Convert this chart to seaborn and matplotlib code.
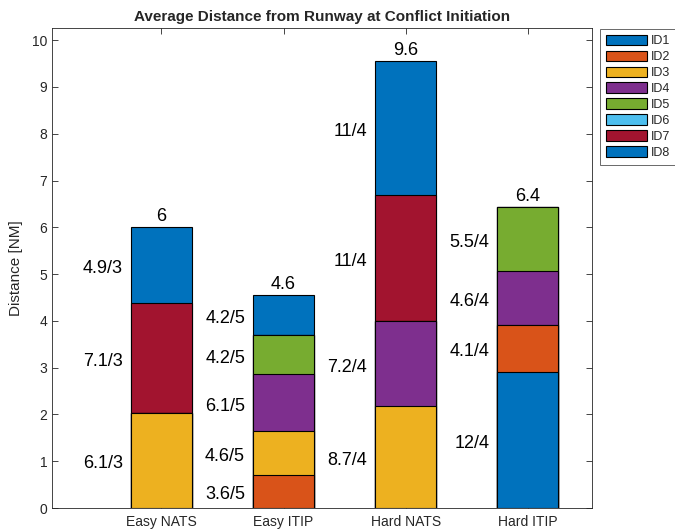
import matplotlib
matplotlib.use("Agg")
import matplotlib.pyplot as plt
from matplotlib.patches import Patch
import seaborn as sns
import pandas as pd

# ---- data ----
conditions = ["Easy NATS", "Easy ITIP", "Hard NATS", "Hard ITIP"]
id_names = ["ID1", "ID2", "ID3", "ID4", "ID5", "ID6", "ID7", "ID8"]
id_colors = ["#0072BD", "#D95319", "#EDB120", "#7E2F8E", "#77AC30",
             "#4DBEEE", "#A2142F", "#0072BD"]

segment_condition = ["Easy NATS", "Easy NATS", "Easy NATS",
                     "Easy ITIP", "Easy ITIP", "Easy ITIP", "Easy ITIP", "Easy ITIP",
                     "Hard NATS", "Hard NATS", "Hard NATS", "Hard NATS",
                     "Hard ITIP", "Hard ITIP", "Hard ITIP", "Hard ITIP"]
segment_id = ["ID3", "ID7", "ID8",
              "ID2", "ID3", "ID4", "ID5", "ID8",
              "ID3", "ID4", "ID7", "ID8",
              "ID1", "ID2", "ID4", "ID5"]
segment_value = [2.03, 2.35, 1.62,
                 0.71, 0.93, 1.22, 0.84, 0.85,
                 2.18, 1.81, 2.70, 2.87,
                 2.91, 1.01, 1.14, 1.37]
segment_label = ["6.1/3", "7.1/3", "4.9/3",
                 "3.6/5", "4.6/5", "6.1/5", "4.2/5", "4.2/5",
                 "8.7/4", "7.2/4", "11/4", "11/4",
                 "12/4", "4.1/4", "4.6/4", "5.5/4"]
total_label = ["6", "4.6", "9.6", "6.4"]

# ---- table ----
df = pd.DataFrame({"condition": segment_condition, "id": segment_id,
                   "value": segment_value, "label": segment_label})
df["id_order"] = df["id"].map({k: i for i, k in enumerate(id_names)})
df = df.sort_values(["condition", "id_order"])
df["cum"] = df.groupby("condition")["value"].cumsum()
df["mid"] = df["cum"] - df["value"] / 2
df["xpos"] = df["condition"].map({c: i for i, c in enumerate(conditions)})

sns.set_theme(style="white")
plt.rcParams["font.family"] = ["Liberation Sans", "DejaVu Sans"]

fig = plt.figure(figsize=(6.75, 5.31), dpi=100)
ax = fig.add_axes([52 / 675, 1 - 508 / 531, (592 - 52) / 675, (508 - 28) / 531])

# draw cumulative stacks from top id to bottom id so lower segments overlay
for k in reversed(range(len(id_names))):
    rows = []
    for c in conditions:
        sub = df[(df["condition"] == c) & (df["id_order"] <= k)]
        if len(sub):
            rows.append({"condition": c, "cum": sub["value"].sum()})
    part = pd.DataFrame(rows)
    if part.empty:
        continue
    sns.barplot(data=part, x="condition", y="cum", order=conditions,
                color=id_colors[k], saturation=1, width=0.5,
                edgecolor="black", linewidth=0.8, errorbar=None, ax=ax)

# segment labels
for _, r in df.iterrows():
    ax.annotate(r["label"], (r["xpos"] - 0.315, r["mid"]), xytext=(0, -2.5),
                textcoords="offset points", ha="right", va="center",
                fontsize=13, color="black")

# totals
tot = df.groupby("condition")["value"].sum()
for i, c in enumerate(conditions):
    ax.annotate(total_label[i], (i, tot[c]), xytext=(0, 1.5),
                textcoords="offset points", ha="center", va="bottom",
                fontsize=13, color="black")

ax.set_xlim(-0.895, 3.525)
ax.set_ylim(0, 10.26)
ax.set_yticks(range(0, 11))
ax.set_xlabel("")
ax.set_ylabel("Distance [NM]", fontsize=11, color="#262626", labelpad=6)
ax.set_title("Average Distance from Runway at Conflict Initiation",
             fontsize=11, fontweight="bold", pad=5)
ax.tick_params(axis="both", direction="in", length=4, width=0.6,
               colors="#262626", labelsize=10, top=True, right=True,
               bottom=True, left=True, labelcolor="#262626")
ax.tick_params(axis="x", pad=5)
for s in ax.spines.values():
    s.set_visible(True)
    s.set_color("#262626")
    s.set_linewidth(0.6)

handles = [Patch(facecolor=id_colors[i], edgecolor="black", linewidth=0.8,
                 label=id_names[i]) for i in range(len(id_names))]
leg = fig.legend(handles=handles, loc="upper left",
                 bbox_to_anchor=(600 / 675, 1 - 29 / 531),
                 fontsize=9, frameon=True, fancybox=False,
                 handlelength=3.3, handleheight=0.95, handletextpad=0.3,
                 labelspacing=0.26, borderpad=0.45, borderaxespad=0)
leg.get_frame().set_edgecolor("#262626")
leg.get_frame().set_linewidth(0.6)

fig.savefig("out.png", dpi=100)
